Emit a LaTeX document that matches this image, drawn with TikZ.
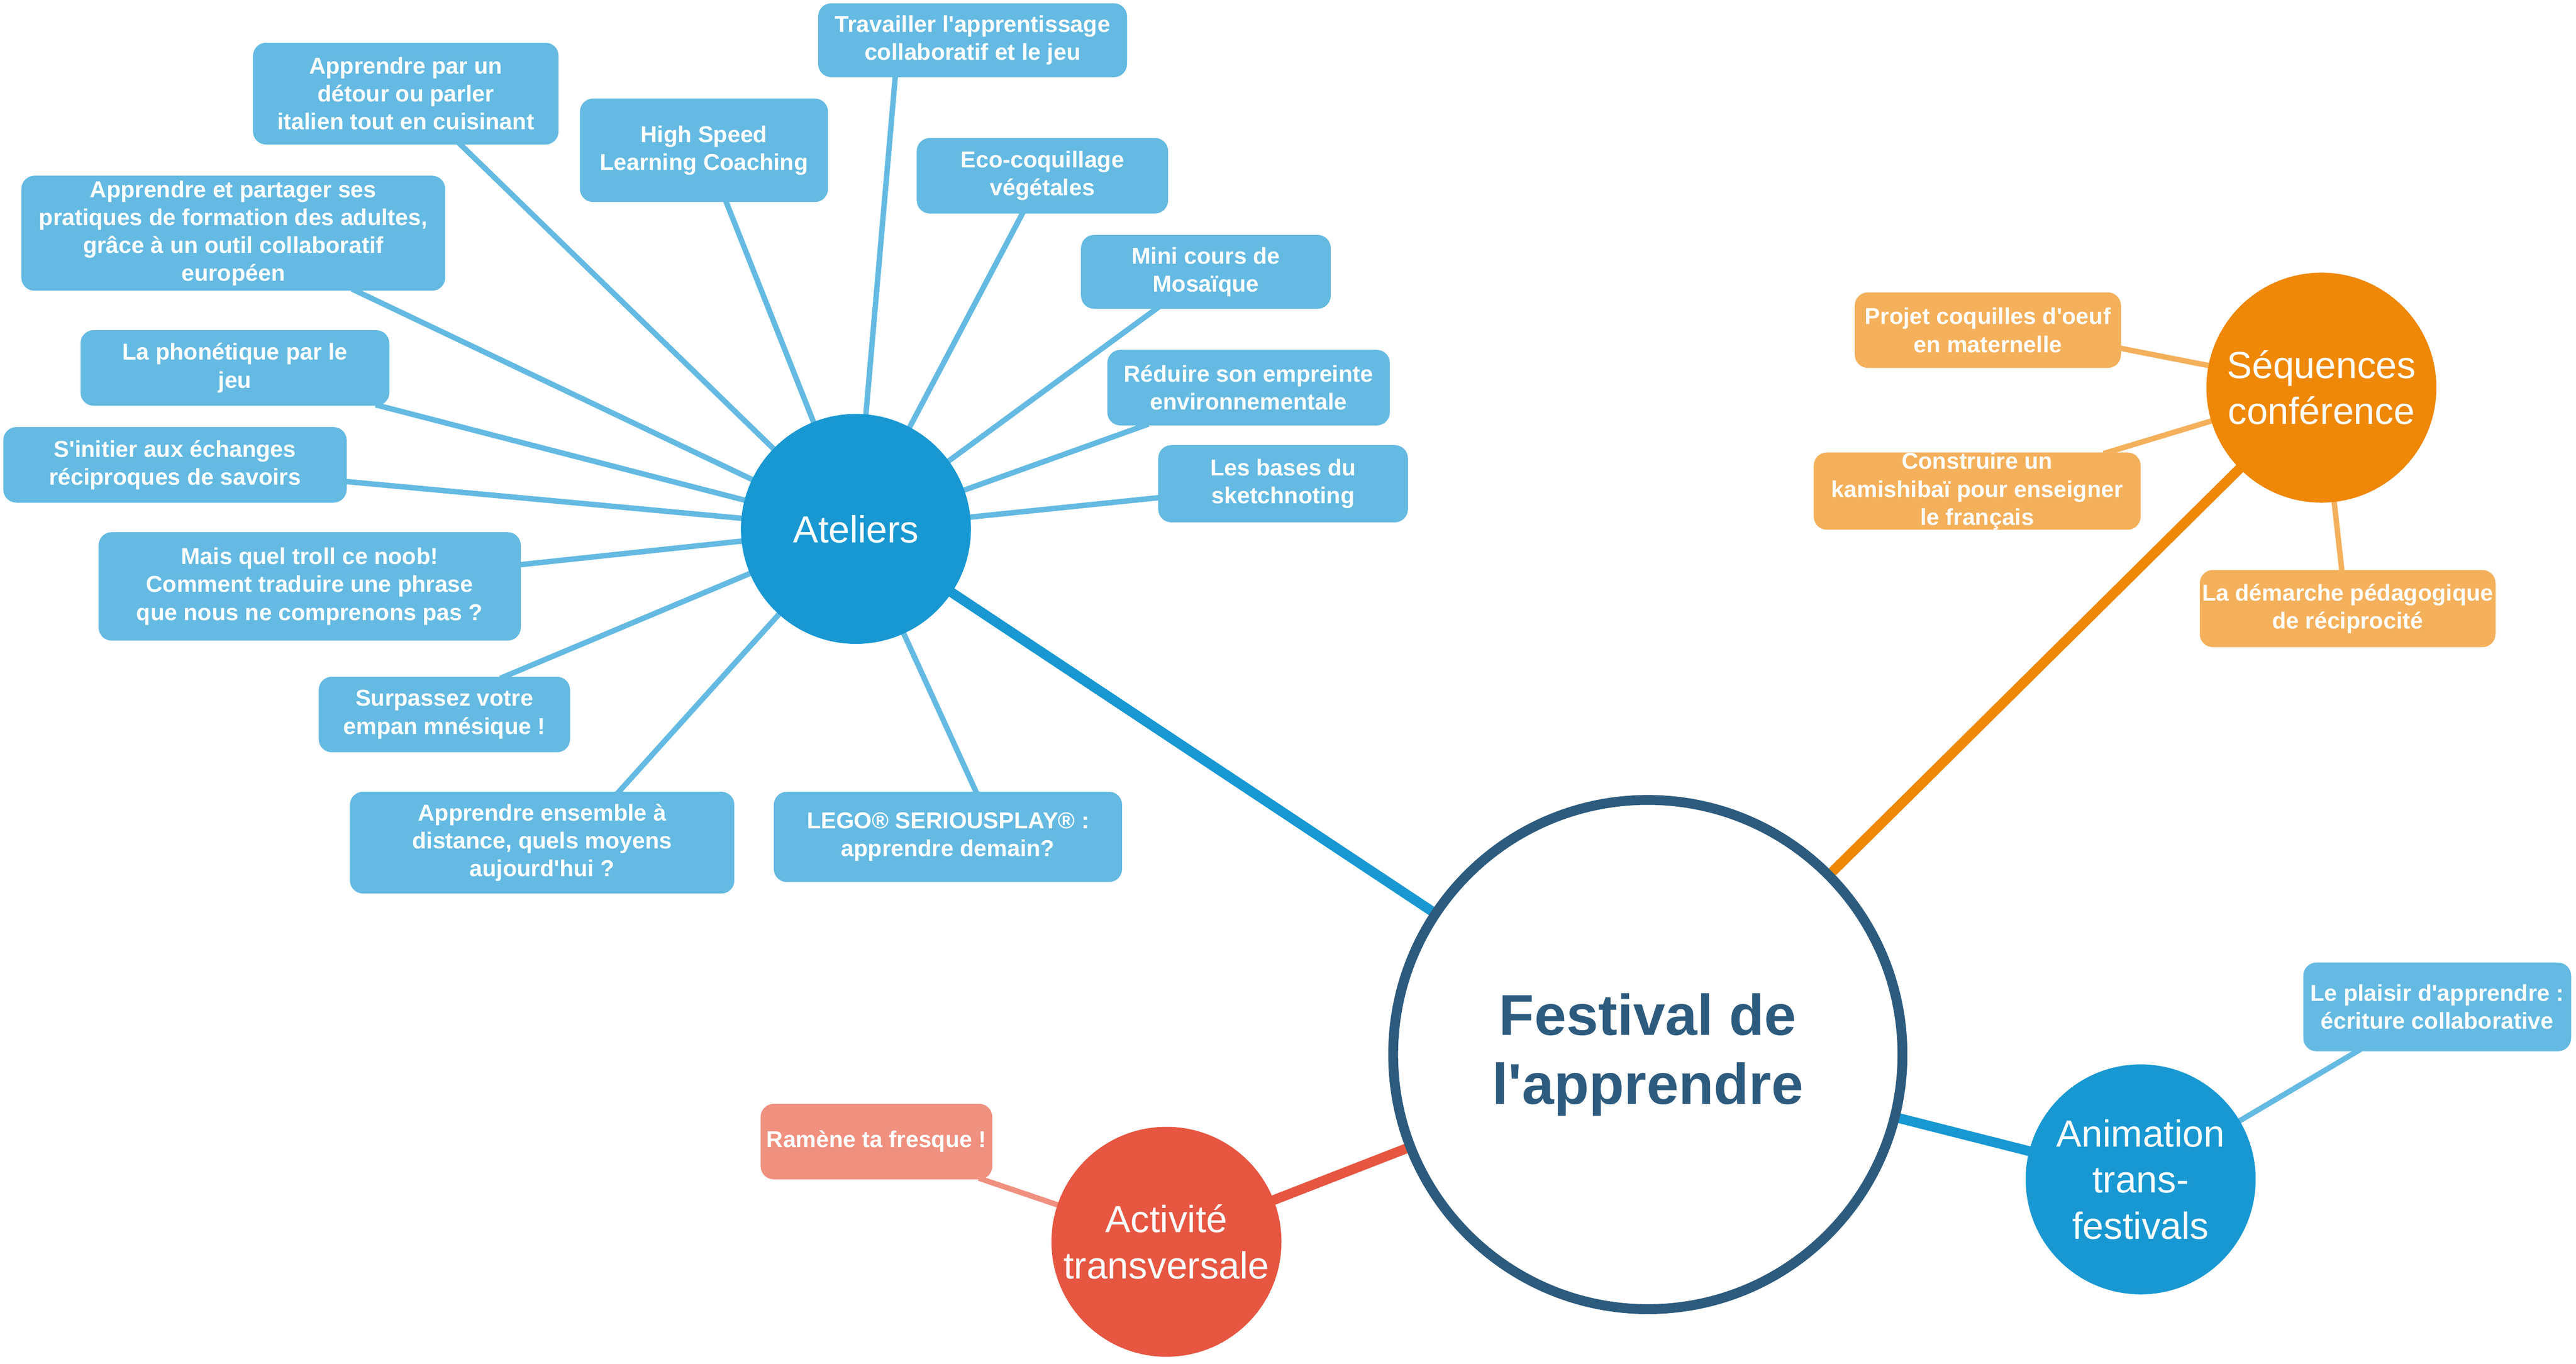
\documentclass[tikz,border=0pt]{standalone}
\usepackage{fontspec}
\setmainfont{Liberation Sans}[Ligatures=TeXOff]
\usetikzlibrary{calc,backgrounds}
\definecolor{dk}{HTML}{2D5B7E}
\definecolor{ab}{HTML}{1898D2}
\definecolor{lb}{HTML}{64BAE2}
\definecolor{oc}{HTML}{EF8707}
\definecolor{ob}{HTML}{F4B05B}
\definecolor{rc}{HTML}{E65641}
\definecolor{rb}{HTML}{F0907F}
\tikzset{
  lbox/.style={fill=lb, rounded corners=8pt, text=white, font=\bfseries\fontsize{14}{17}\selectfont, align=center, inner sep=0pt},
  obox/.style={lbox, fill=ob},
  rbox/.style={lbox, fill=rb},
  topic/.style={circle, inner sep=0pt, minimum size=140pt, text=white, font=\fontsize{23}{28}\selectfont, align=center},
  sublink/.style={line width=3.3pt, shorten >=-3pt},
  mainlink/.style={line width=6pt},
}
\begin{document}
\begin{tikzpicture}[x=1pt,y=-1pt]
\useasboundingbox (0,0) rectangle (1568,830.3);
% central
\node[circle, draw=dk, line width=6pt, fill=white, minimum size=310pt, inner sep=0pt, text=dk, font=\bfseries\fontsize{35}{42}\selectfont, align=center] (c) at (1003,642) {Festival de\\l'apprendre};
% topics
\node[topic, fill=ab] (at) at (521,322) {Ateliers};
\node[topic, fill=oc] (sq) at (1413,236) {Séquences\\conférence};
\node[topic, fill=ab] (an) at (1303,718) {Animation\\trans-\\festivals};
\node[topic, fill=rc] (ac) at (710,756) {Activité\\transversale};
% ateliers boxes
\node[lbox, minimum width=188pt, minimum height=45pt] (b1) at (592,24.5) {Travailler l'apprentissage\\collaboratif et le jeu};
\node[lbox, minimum width=186pt, minimum height=62pt] (b2) at (247,57) {Apprendre par un\\détour ou parler\\italien tout en cuisinant};
\node[lbox, minimum width=151pt, minimum height=63pt] (b3) at (428.5,91.5) {High Speed\\Learning Coaching};
\node[lbox, minimum width=153pt, minimum height=46pt] (b4) at (634.5,107) {Eco-coquillage\\végétales};
\node[lbox, minimum width=258pt, minimum height=70pt] (b5) at (142,142) {Apprendre et partager ses\\pratiques de formation des adultes,\\grâce à un outil collaboratif\\européen};
\node[lbox, minimum width=152pt, minimum height=45pt] (b6) at (734,165.5) {Mini cours de\\Mosaïque};
\node[lbox, minimum width=188pt, minimum height=46pt] (b7) at (143,224) {La phonétique par le\\jeu};
\node[lbox, minimum width=172pt, minimum height=46pt] (b8) at (760,236) {Réduire son empreinte\\environnementale};
\node[lbox, minimum width=209pt, minimum height=46pt] (b9) at (106.5,283) {S'initier aux échanges\\réciproques de savoirs};
\node[lbox, minimum width=152pt, minimum height=47pt] (b10) at (781,294.5) {Les bases du\\sketchnoting};
\node[lbox, minimum width=257pt, minimum height=66pt] (b11) at (188.5,357) {Mais quel troll ce noob!\\Comment traduire une phrase\\que nous ne comprenons pas ?};
\node[lbox, minimum width=153pt, minimum height=46pt] (b12) at (270.5,435) {Surpassez votre\\empan mnésique !};
\node[lbox, minimum width=234pt, minimum height=62pt] (b13) at (330,513) {Apprendre ensemble à\\distance, quels moyens\\aujourd'hui ?};
\node[lbox, minimum width=212pt, minimum height=55pt] (b14) at (577,509.5) {LEGO® SERIOUSPLAY® :\\apprendre demain?};
% sequences boxes
\node[obox, minimum width=162pt, minimum height=46pt] (o1) at (1210,201) {Projet coquilles d'oeuf\\en maternelle};
\node[obox, minimum width=199pt, minimum height=46pt] (o2) at (1203.5,299) {Construire un\\kamishibaï pour enseigner\\le français};
\node[obox, minimum width=180pt, minimum height=47pt] (o3) at (1429,370.5) {La démarche pédagogique\\de réciprocité};
% animation box
\node[lbox, minimum width=163pt, minimum height=54pt] (p1) at (1483.5,613) {Le plaisir d'apprendre :\\écriture collaborative};
% activite box
\node[rbox, minimum width=141pt, minimum height=46pt] (r1) at (533.5,695) {Ramène ta fresque !};
\begin{scope}[on background layer]
\draw[mainlink, ab] (c.center) -- (at.center);
\draw[mainlink, oc] (c.center) -- (sq.center);
\draw[mainlink, ab] (c.center) -- (an.center);
\draw[mainlink, rc] (c.center) -- (ac.center);
\begin{scope}[sublink, lb]
\draw (at.center) -- ($(b1.south west)!0.25!(b1.south east)$);
\draw (at.center) -- ($(b2.south west)!0.68!(b2.south east)$);
\draw (at.center) -- ($(b3.south west)!0.59!(b3.south east)$);
\draw (at.center) -- ($(b4.south west)!0.42!(b4.south east)$);
\draw (at.center) -- ($(b5.south west)!0.79!(b5.south east)$);
\draw (at.center) -- ($(b6.south west)!0.30!(b6.south east)$);
\draw (at.center) -- ($(b7.south west)!0.97!(b7.south east)$);
\draw (at.center) -- ($(b8.south west)!0.13!(b8.south east)$);
\draw (at.center) -- ($(b9.north east)!0.72!(b9.south east)$);
\draw (at.center) -- ($(b10.north west)!0.68!(b10.south west)$);
\draw (at.center) -- ($(b11.north east)!0.30!(b11.south east)$);
\draw (at.center) -- ($(b12.north west)!0.74!(b12.north east)$);
\draw (at.center) -- ($(b13.north west)!0.70!(b13.north east)$);
\draw (at.center) -- ($(b14.north west)!0.58!(b14.north east)$);
\draw (an.center) -- ($(p1.south west)!0.20!(p1.south east)$);
\end{scope}
\begin{scope}[sublink, ob]
\draw (sq.center) -- ($(o1.north east)!0.74!(o1.south east)$);
\draw (sq.center) -- ($(o2.north west)!0.90!(o2.north east)$);
\draw (sq.center) -- ($(o3.north west)!0.48!(o3.north east)$);
\end{scope}
\draw[sublink, rb] (ac.center) -- ($(r1.south west)!0.96!(r1.south east)$);
\end{scope}
\end{tikzpicture}
\end{document}
